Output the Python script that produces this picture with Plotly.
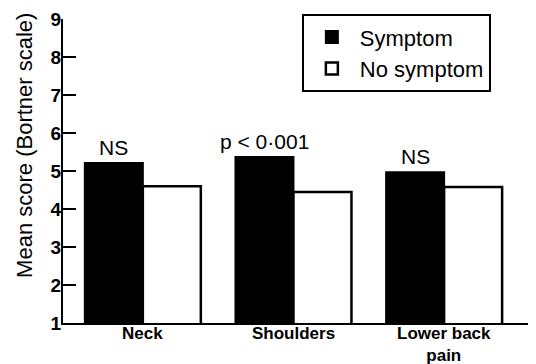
import plotly.graph_objects as go

categories = ["Neck", "Shoulders", "Lower back<br>pain"]
symptom = [5.21, 5.37, 4.97]
no_symptom = [4.60, 4.45, 4.58]
sig_labels = ["NS", "p < 0·001", "NS"]
y_ticks = [1, 2, 3, 4, 5, 6, 7, 8, 9]

x_pos = list(range(len(categories)))
bargap = 0.23
offset = (1 - bargap) / 4

FONT = "Liberation Sans, Arial, sans-serif"

fig = go.Figure()
fig.add_trace(go.Bar(
    x=x_pos, y=symptom, name="Symptom",
    marker=dict(color="black", line=dict(color="black", width=2)),
))
fig.add_trace(go.Bar(
    x=x_pos, y=no_symptom, name="No symptom",
    marker=dict(color="white", line=dict(color="black", width=2.5)),
))

for xi, yv, lab in zip(x_pos, symptom, sig_labels):
    fig.add_annotation(
        x=xi - offset, y=yv, text=lab, showarrow=False,
        yanchor="bottom", yshift=2,
        font=dict(family=FONT, size=21, color="black"),
    )

# category labels under the axis
for xi, lab in zip(x_pos, categories):
    fig.add_annotation(
        x=xi, xref="x", yref="paper", y=0, text=lab, showarrow=False,
        xanchor="center", yanchor="top", yshift=1,
        font=dict(family=FONT, size=17, color="black", weight="bold"),
    )

fig.add_annotation(
    xref="paper", yref="paper", x=-0.083, y=0.585,
    text="Mean score (Bortner scale)", textangle=-90, showarrow=False,
    xanchor="center", yanchor="middle",
    font=dict(family=FONT, size=22, color="black"),
)

# the page body has an 8px margin, so the figure is sized to fit the window
fig.update_layout(
    width=528, height=356,
    margin=dict(l=55, r=0, t=11, b=41, autoexpand=False),
    paper_bgcolor="white", plot_bgcolor="white",
    barmode="group", bargap=bargap, bargroupgap=0,
    showlegend=True,
    legend=dict(
        x=0.505, y=1.016, xanchor="left", yanchor="top",
        bordercolor="black", borderwidth=2, bgcolor="white",
        font=dict(family=FONT, size=22, color="black"),
        traceorder="normal", itemwidth=46,
    ),
    xaxis=dict(
        range=[-0.53, 2.61], tickvals=x_pos, showticklabels=False,
        showgrid=False, zeroline=False, showline=True, automargin=False,
        linecolor="black", linewidth=2, ticks="",
    ),
    yaxis=dict(
        range=[1, 9], tickvals=y_ticks, showgrid=False, zeroline=False,
        showline=True, linecolor="black", linewidth=2, automargin=False,
        ticks="inside", ticklen=13, tickwidth=2, tickcolor="black",
        ticklabelstandoff=-4,
        tickfont=dict(family=FONT, size=19, color="black", weight="bold"),
    ),
)

fig.write_html("out.html")
